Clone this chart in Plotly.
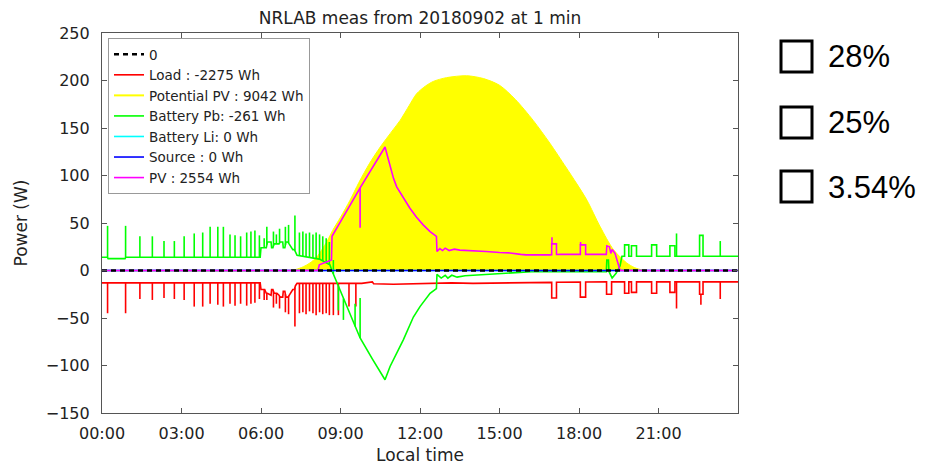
import numpy as np
import plotly.graph_objects as go

# ---------------- axes ----------------
TICK_HOURS = [0, 3, 6, 9, 12, 15, 18, 21]
TICK_TEXT = ["00:00", "03:00", "06:00", "09:00", "12:00", "15:00", "18:00", "21:00"]
Y_TICKS = [-150, -100, -50, 0, 50, 100, 150, 200, 250]
DAY_SPAN = [0.0, 24.0]

# ---------------- daily energy totals (Wh) ----------------
LOAD_WH = -2275
POTENTIAL_PV_WH = 9042
BATT_PB_WH = -261
BATT_LI_WH = 0
SOURCE_WH = 0
PV_WH = 2554

SHARES = ["28%", "25%", "3.54%"]

# ---------------- zero reference / unused channels ----------------
ZERO_W = [0, 0]
BATT_LI_W = [0, 0]
SOURCE_W = [0, 0]

# ---------------- potential PV (W) ----------------
POT_PV_H = [0, 7.0, 7.3, 7.6, 7.85, 8.1, 8.3, 8.5, 8.7, 9.0, 9.36, 9.7, 10.1, 10.5,
            10.98, 11.25, 11.6, 11.87, 12.2, 12.5, 13.0, 13.76, 14.4, 15.0, 15.6,
            16.27, 16.9, 17.5, 17.9, 18.3, 18.8, 19.3, 19.8, 20.1, 20.4, 20.6, 24]
POT_PV_W = [0, 0, 1, 4, 8, 14, 22, 31, 42, 56, 74, 93, 113, 130,
            148, 158, 174, 186, 194, 199, 203, 205, 202, 195, 180,
            158, 134, 109, 92, 74, 46, 22, 8, 3, 0.5, 0, 0]

# ---------------- PV production (W) ----------------
PV_H = [0, 8.15, 8.2, 8.66, 8.68, 9.74, 10.68, 10.85, 11.0, 11.12, 11.37, 11.62,
        11.87, 12.12, 12.38, 12.62, 12.64, 12.75, 12.85, 12.95, 13.1, 13.3, 13.5,
        14.0, 14.5, 15.0, 15.4, 15.8, 16.0, 16.9, 17.3, 18.0, 18.4, 19.03, 19.05,
        19.15, 19.2, 19.25, 19.36, 19.55, 24]
PV_W = [0, 0, 6, 11, 36, 87, 130, 112, 97, 88, 76, 65.5,
        56, 48, 41, 36, 20, 23, 21, 23.5, 21, 22.5, 21.5,
        21, 20, 19, 18.5, 17, 16.5, 16.5, 17, 17, 17, 17, 26,
        25, 18, 22, 18, 0, 0]
PV_PULSE_START = [16.97, 18.05]
PV_PULSE_END = [17.15, 18.25]
PV_PULSE_W = [28, 27]
PV_SPIKE_H = [9.74, 16.98, 18.06]
PV_SPIKE_W = [45, 35, 30]

# ---------------- load (W) ----------------
LOAD_H = [0, 5.97, 6.0, 6.1, 6.14, 6.2, 6.24, 6.38, 6.4, 6.45, 6.49, 6.56, 6.6,
          6.68, 6.72, 6.82, 6.84, 6.9, 6.94, 7.02, 7.06, 7.2, 7.26, 7.3, 7.36,
          9.8, 10.2, 10.25, 11.0, 12.0, 12.6, 13.2, 14.0, 15.0, 16.0, 16.9,
          19.0, 19.6, 24]
LOAD_W = [-13, -13, -20, -20, -20, -24, -24, -26, -20, -20, -24, -24, -24,
          -26, -28, -28, -22, -22, -28, -28, -26, -20, -20, -16, -13.5,
          -13.5, -12, -14, -14.5, -14, -14, -13, -13.5, -13, -12.5, -12.5,
          -12, -12, -12]
LOAD_SPIKE_H = [0.21, 0.89, 1.43, 1.90, 2.34, 2.73, 3.10, 3.48, 3.80, 4.08,
                4.37, 4.58, 4.83, 5.02, 5.23, 5.46, 5.62, 5.77, 5.94,
                6.12, 6.22, 6.47, 6.58, 6.70, 6.92, 7.04, 7.28,
                7.45, 7.58, 7.70, 7.83, 7.96, 8.08, 8.21, 8.33, 8.46, 8.58,
                8.73, 8.92, 9.32, 9.58, 21.68, 22.60, 23.33]
LOAD_SPIKE_W = [-45, -45, -30, -31, -29, -30, -31, -38, -38, -35,
                -36, -38, -35, -37, -35, -37, -35, -34, -30,
                -31, -31, -39, -35, -40, -44, -46, -59,
                -45, -44, -46, -43, -45, -47, -44, -46, -45, -47,
                -47, -47, -38, -38, -40, -36, -30]
LOAD_PULSE_START = [16.97, 18.05, 19.04, 19.72, 19.98, 20.74, 21.43, 22.55]
LOAD_PULSE_END = [17.15, 18.25, 19.23, 19.88, 20.17, 20.93, 21.62, 22.68]
LOAD_PULSE_W = [-29, -28, -25, -24, -23, -24, -23, -25]

# ---------------- lead-acid battery (W) ----------------
BATT_H = [0, 0.2, 0.23, 0.87, 0.9, 5.97, 6.0, 6.1, 6.14, 6.2, 6.24, 6.38, 6.4,
          6.45, 6.49, 6.56, 6.6, 6.68, 6.72, 6.82, 6.84, 6.9, 6.94, 7.02, 7.06,
          7.2, 7.26, 7.3, 7.36, 8.2, 8.6, 8.69, 9.0, 9.35, 9.74, 10.2, 10.68,
          10.87, 11.12, 11.37, 11.75, 12.0, 12.38, 12.62, 12.64, 12.8, 12.95,
          13.05, 13.2, 13.4, 13.7, 14.2, 14.8, 15.5, 16.2, 19.03, 19.05, 19.11,
          19.13, 19.25, 19.4, 19.55, 19.62, 24]
BATT_W = [14, 14, 12.5, 12.5, 14, 14, 24, 24, 24, 24, 30, 30, 24,
          24, 28, 28, 28, 28, 30, 30, 24, 24, 30, 30, 28,
          22, 22, 20, 16, 12, 6, -1, -22, -46, -71, -93, -115,
          -101, -87, -73, -49, -38, -24, -19, -4, -8, -5,
          -8, -5, -7, -5.5, -4.5, -3.5, -2.5, -1.2, -1.2, 11, 11,
          -1, -8, -3, 5, 15, 15]
BATT_SPIKE_H = [0.21, 0.89, 1.43, 1.90, 2.34, 2.73, 3.10, 3.48, 3.80, 4.08,
                4.37, 4.58, 4.83, 5.02, 5.23, 5.46, 5.62, 5.77, 5.94,
                6.12, 6.22, 6.47, 6.58, 6.70, 6.92, 7.04, 7.28,
                7.45, 7.58, 7.70, 7.83, 7.96, 8.08, 8.21, 8.33, 8.46, 8.58,
                8.73, 8.92, 9.11, 9.55, 9.74, 21.68, 23.33]
BATT_SPIKE_W = [47, 47, 36, 36, 31, 31, 36, 39, 40, 46,
                46, 46, 38, 37, 36, 40, 41, 42, 37,
                34, 46, 41, 38, 44, 46, 48, 58,
                40, 41, 39, 40, 38, 40, 38, 36, 34, 30,
                11, -42, -52, -35, -29, 39, 31]
BATT_PULSE_START = [19.72, 19.98, 20.74, 21.43, 22.55]
BATT_PULSE_END = [19.88, 20.17, 20.93, 21.62, 22.68]
BATT_PULSE_W = [27, 26, 27, 26, 37]


def build_trace(track_h, track_w, pulse_start=(), pulse_end=(), pulse_w=(),
                spike_h=(), spike_w=()):
    """Baseline polyline with rectangular pulses and one-sample spikes."""
    pts = [(h, 0, w) for h, w in zip(track_h, track_w)]
    for s, e, lev in zip(pulse_start, pulse_end, pulse_w):
        b0 = float(np.interp(s, track_h, track_w))
        b1 = float(np.interp(e, track_h, track_w))
        pts += [(s, 1, b0), (s, 2, lev), (e, 1, lev), (e, 2, b1)]
    pts.sort(key=lambda p: (p[0], p[1]))
    x = [p[0] for p in pts]
    y = [p[2] for p in pts]
    xs, ys = list(x), list(y)
    for t, peak in zip(spike_h, spike_w):
        foot = float(np.interp(t, x, y))
        xs += [None, t, t]
        ys += [None, foot, peak]
    return xs, ys


load_x, load_y = build_trace(LOAD_H, LOAD_W, LOAD_PULSE_START, LOAD_PULSE_END,
                             LOAD_PULSE_W, LOAD_SPIKE_H, LOAD_SPIKE_W)
batt_x, batt_y = build_trace(BATT_H, BATT_W, BATT_PULSE_START, BATT_PULSE_END,
                             BATT_PULSE_W, BATT_SPIKE_H, BATT_SPIKE_W)
pv_x, pv_y = build_trace(PV_H, PV_W, PV_PULSE_START, PV_PULSE_END, PV_PULSE_W,
                         PV_SPIKE_H, PV_SPIKE_W)

LW = 1.6
fig = go.Figure()

# potential PV area (legend entry drawn separately as a plain line)
fig.add_trace(go.Scatter(x=POT_PV_H, y=POT_PV_W, mode="lines", fill="tozeroy",
                         fillcolor="#ffff00",
                         line=dict(color="#ffff00", width=1, shape="spline",
                                   smoothing=0.8),
                         showlegend=False, hoverinfo="skip"))
fig.add_trace(go.Scatter(x=load_x, y=load_y, mode="lines",
                         line=dict(color="#ff0000", width=LW),
                         name=f"Load : {LOAD_WH} Wh", legendrank=2))
fig.add_trace(go.Scatter(x=[None], y=[None], mode="lines",
                         line=dict(color="#ffff00", width=2),
                         name=f"Potential PV : {POTENTIAL_PV_WH} Wh", legendrank=3))
fig.add_trace(go.Scatter(x=batt_x, y=batt_y, mode="lines",
                         line=dict(color="#00ff00", width=LW),
                         name=f"Battery Pb: {BATT_PB_WH} Wh", legendrank=4))
fig.add_trace(go.Scatter(x=DAY_SPAN, y=BATT_LI_W, mode="lines",
                         line=dict(color="#00ffff", width=LW),
                         name=f"Battery Li: {BATT_LI_WH} Wh", legendrank=5))
fig.add_trace(go.Scatter(x=DAY_SPAN, y=SOURCE_W, mode="lines",
                         line=dict(color="#0000ff", width=LW),
                         name=f"Source : {SOURCE_WH} Wh", legendrank=6))
fig.add_trace(go.Scatter(x=pv_x, y=pv_y, mode="lines",
                         line=dict(color="#ff00ff", width=LW),
                         name=f"PV : {PV_WH} Wh", legendrank=7))
fig.add_trace(go.Scatter(x=DAY_SPAN, y=ZERO_W, mode="lines",
                         line=dict(color="#000000", width=2.5, dash="5px,4px"),
                         name="0", legendrank=1))

# ---------------- layout ----------------
W, H = 928, 468
L, R, T, B = 102, 190, 33, 55
PLOT_W, PLOT_H = W - L - R, H - T - B


def px_x(px):
    return (px - L) / PLOT_W


def px_y(py):
    return (H - B - py) / PLOT_H


axis_common = dict(showgrid=False, zeroline=False, showline=True, linecolor="#555",
                   linewidth=1.2, mirror="ticks", ticks="inside", ticklen=5,
                   tickcolor="#555", tickfont=dict(size=16, color="#222"),
                   automargin=False)

fig.update_layout(
    width=W, height=H,
    margin=dict(l=L, r=R, t=T, b=B, autoexpand=False),
    paper_bgcolor="white", plot_bgcolor="white",
    font=dict(family="DejaVu Sans", color="#222"),
    title=dict(text="NRLAB meas from 20180902 at 1 min", x=0.5, xref="paper",
               xanchor="center", y=1 - 18 / H, yanchor="middle",
               font=dict(size=17, color="#222")),
    xaxis=dict(range=DAY_SPAN, tickvals=TICK_HOURS, ticktext=TICK_TEXT,
               title=dict(text="Local time", font=dict(size=17), standoff=6),
               ticklabelstandoff=6, **axis_common),
    yaxis=dict(range=[-150, 250], tickvals=Y_TICKS,
               title=dict(text="Power (W)", font=dict(size=17), standoff=13),
               ticklabelstandoff=8, **axis_common),
    legend=dict(x=px_x(108), y=px_y(38), xanchor="left", yanchor="top",
                bgcolor="white", bordercolor="#999", borderwidth=1,
                font=dict(size=13.5, color="#222"), tracegroupgap=0),
    showlegend=True,
)

# share boxes on the right
box_tops = [40, 106, 170]
for top, label in zip(box_tops, SHARES):
    fig.add_shape(type="rect", xref="paper", yref="paper",
                  x0=px_x(781), x1=px_x(812), y0=px_y(top + 32), y1=px_y(top + 1),
                  line=dict(color="black", width=3), fillcolor="white")
    fig.add_annotation(xref="paper", yref="paper", x=px_x(826), y=px_y(top + 17),
                       xanchor="left", yanchor="middle", showarrow=False,
                       text=label, font=dict(family="Liberation Sans", size=31,
                                             color="black"))

fig.write_html("out.html")
